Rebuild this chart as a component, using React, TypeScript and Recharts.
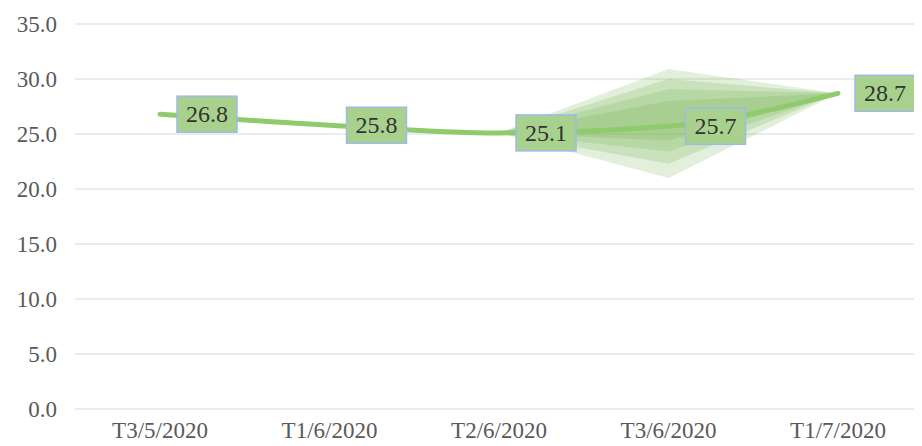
import React from "react";
import {
  ComposedChart,
  Line,
  Area,
  XAxis,
  YAxis,
  CartesianGrid,
  LabelList,
} from "recharts";

const categories = ["T3/5/2020", "T1/6/2020", "T2/6/2020", "T3/6/2020", "T1/7/2020"];
const values = [26.8, 25.8, 25.1, 25.7, 28.7];
const yTicks = [0, 5, 10, 15, 20, 25, 30, 35];

// forecast fan bands (low / high), null where no band
const fan1Low = [null, null, 25.1, 21.0, 28.7];
const fan1High = [null, null, 25.1, 30.9, 28.7];
const fan2Low = [null, null, 25.1, 22.3, 28.7];
const fan2High = [null, null, 25.1, 30.0, 28.7];
const fan3Low = [null, null, 25.1, 23.4, 28.7];
const fan3High = [null, null, 25.1, 29.1, 28.7];
const fan4Low = [null, null, 25.1, 24.4, 28.7];
const fan4High = [null, null, 25.1, 28.0, 28.7];

const band = (lo: (number | null)[], hi: (number | null)[], i: number) =>
  lo[i] == null || hi[i] == null ? null : [lo[i], hi[i]];

const data = categories.map((c, i) => ({
  name: c,
  value: values[i],
  f1: band(fan1Low, fan1High, i),
  f2: band(fan2Low, fan2High, i),
  f3: band(fan3Low, fan3High, i),
  f4: band(fan4Low, fan4High, i),
}));

const FONT = "'Liberation Serif', 'Times New Roman', serif";

const BoxLabel = (props: any) => {
  const { x, y, value } = props;
  if (x == null || y == null) return null;
  const bx = x + 17;
  const by = y - 18;
  return (
    <g>
      <rect x={bx} y={by} width={60} height={36} fill="#a9d18e" stroke="#9dbbe6" strokeWidth={1.5} />
      <text
        x={bx + 30}
        y={by + 18}
        textAnchor="middle"
        dominantBaseline="central"
        fontFamily={FONT}
        fontSize={24}
        fill="#333333"
      >
        {Number(value).toFixed(1)}
      </text>
    </g>
  );
};

export default function App() {
  return (
    <div style={{ width: 914, height: 438, overflow: "hidden" }}>
      <ComposedChart
        width={930}
        height={438}
        data={data}
        margin={{ top: 16, right: 15, left: 0, bottom: 0 }}
      >
        <CartesianGrid vertical={false} stroke="#d9d9d9" strokeWidth={1.2} />
        <XAxis
          dataKey="name"
          scale="point"
          padding={{ left: 85, right: 85 }}
          axisLine={false}
          tickLine={false}
          tickMargin={7}
          height={37}
          tick={{ fontFamily: FONT, fontSize: 23, fill: "#595959" }}
          interval={0}
        />
        <YAxis
          domain={[0, 35]}
          ticks={yTicks}
          width={67}
          axisLine={false}
          tickLine={false}
          tickMargin={12}
          tickFormatter={(v: number) => v.toFixed(1)}
          tick={{ fontFamily: FONT, fontSize: 23, fill: "#595959" }}
        />
        <Area dataKey="f1" type="linear" stroke="none" fill="#70ad47" fillOpacity={0.2} isAnimationActive={false} />
        <Area dataKey="f2" type="linear" stroke="none" fill="#70ad47" fillOpacity={0.2} isAnimationActive={false} />
        <Area dataKey="f3" type="linear" stroke="none" fill="#70ad47" fillOpacity={0.2} isAnimationActive={false} />
        <Area dataKey="f4" type="linear" stroke="none" fill="#70ad47" fillOpacity={0.2} isAnimationActive={false} />
        <Line
          dataKey="value"
          type="monotone"
          stroke="#8fca6c"
          strokeWidth={5}
          strokeLinecap="round"
          dot={false}
          activeDot={false}
          isAnimationActive={false}
        >
          <LabelList dataKey="value" content={<BoxLabel />} />
        </Line>
      </ComposedChart>
    </div>
  );
}
